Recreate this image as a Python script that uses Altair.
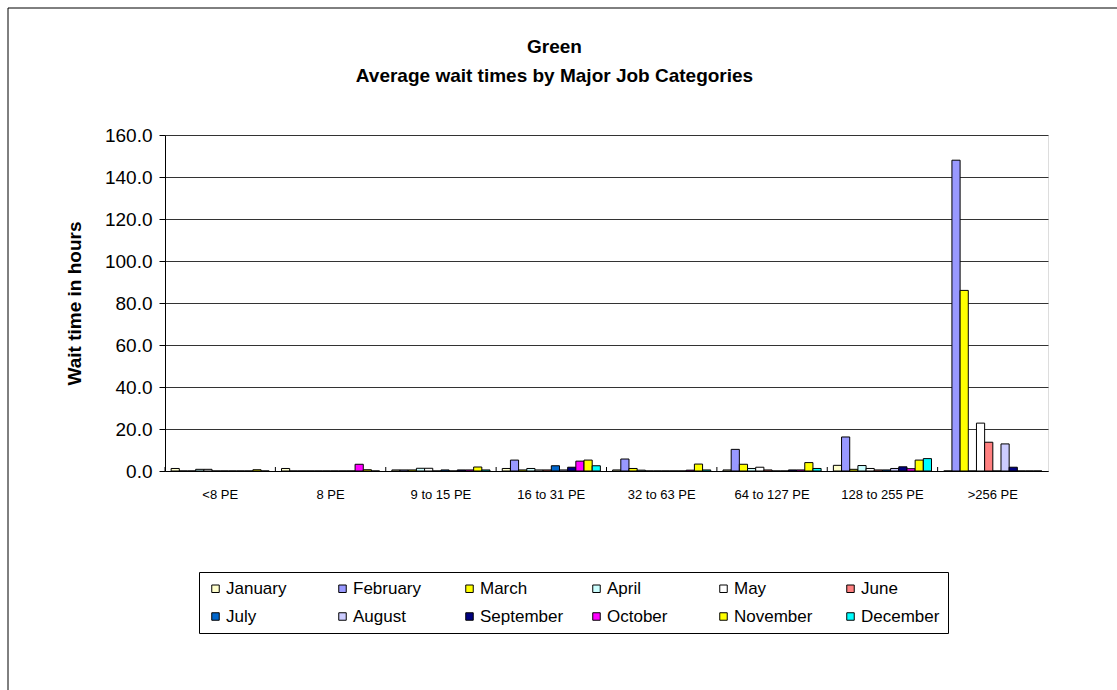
import altair as alt
import pandas as pd

categories = ["<8 PE", "8 PE", "9 to 15 PE", "16 to 31 PE", "32 to 63 PE",
              "64 to 127 PE", "128 to 255 PE", ">256 PE"]
months = ["January", "February", "March", "April", "May", "June",
          "July", "August", "September", "October", "November", "December"]

january   = [1.2, 1.2, 0.5, 1.2, 0.5, 0.5, 2.7, 0.0]
february  = [0.0, 0.0, 0.5, 5.2, 5.7, 10.3, 16.2, 148.0]
march     = [0.0, 0.0, 0.5, 0.5, 1.2, 3.2, 0.8, 86.0]
april     = [0.8, 0.0, 1.3, 1.2, 0.4, 1.2, 2.6, 0.0]
may       = [0.8, 0.0, 1.3, 0.5, 0.0, 1.8, 1.2, 22.8]
june      = [0.0, 0.0, 0.0, 0.5, 0.0, 0.5, 0.5, 13.7]
july      = [0.0, 0.0, 0.5, 2.5, 0.0, 0.0, 0.5, 0.0]
august    = [0.0, 0.0, 0.0, 0.5, 0.0, 0.0, 1.2, 12.9]
september = [0.0, 0.0, 0.5, 1.8, 0.0, 0.5, 2.0, 1.8]
october   = [0.0, 3.2, 0.5, 4.7, 0.4, 0.5, 1.1, 0.0]
november  = [0.6, 0.6, 1.9, 5.2, 3.3, 4.0, 5.2, 0.0]
december  = [0.0, 0.0, 0.5, 2.5, 0.5, 1.2, 5.9, 0.0]

series = [january, february, march, april, may, june, july, august,
          september, october, november, december]
colors = ["#FFFFCC", "#9999FF", "#FFFF00", "#CCFFFF", "#FFFFFF", "#FF8080",
          "#0066CC", "#CCCCFF", "#000080", "#FF00FF", "#FFFF00", "#00FFFF"]

rows = []
for m, vals in zip(months, series):
    for c, v in zip(categories, vals):
        rows.append({"category": c, "month": m, "value": v})
df = pd.DataFrame(rows)
cat_df = pd.DataFrame({"category": categories})

FONT = "Liberation Sans"
W, H = 883, 336

bars = alt.Chart(df).mark_bar(stroke="black", strokeWidth=1).encode(
    x=alt.X("category:N", sort=categories,
            scale=alt.Scale(paddingInner=0, paddingOuter=0),
            axis=alt.Axis(title=None, labelAngle=0, labelFontSize=13, labelFont=FONT,
                          labelColor="black", tickSize=0, labelPadding=17,
                          domainColor="black", domainWidth=1)),
    xOffset=alt.XOffset("month:N", sort=months,
                        scale=alt.Scale(paddingInner=0, paddingOuter=0.75)),
    y=alt.Y("value:Q", scale=alt.Scale(domain=[0, 160], nice=False),
            axis=alt.Axis(title="Wait time in hours", values=list(range(0, 161, 20)),
                          format=".1f", labelFontSize=19, labelFont=FONT,
                          labelColor="black", tickSize=6, tickColor="black",
                          labelPadding=7, domainColor="black",
                          titleFont=FONT, titleFontSize=19, titleFontWeight="bold",
                          titleColor="black", titlePadding=20,
                          grid=True, gridColor="#333333", gridWidth=1)),
    color=alt.Color("month:N", sort=months,
                    scale=alt.Scale(domain=months, range=colors),
                    legend=alt.Legend(title=None, orient="none", legendX=34, legendY=437,
                                      direction="horizontal",
                                      columns=6, gridAlign="all", columnPadding=24,
                                      rowPadding=10, padding=8, strokeColor="black",
                                      fillColor="white", symbolType="square",
                                      symbolSize=56, symbolStrokeColor="black",
                                      symbolStrokeWidth=1, labelFontSize=17,
                                      labelFont=FONT, labelColor="black",
                                      labelOffset=2, symbolOffset=0)),
)

ticks = alt.Chart(cat_df).mark_rule(color="black", strokeWidth=1).encode(
    x=alt.X("category:N", sort=categories, bandPosition=0),
    y=alt.value(H - 4),
    y2=alt.value(H),
)

frame_df = pd.DataFrame({"k": [0]})
frame_left = alt.Chart(frame_df).mark_rule(color="black", strokeWidth=1).encode(
    x=alt.value(-157), y=alt.value(-127), y2=alt.value(560))
frame_top = alt.Chart(frame_df).mark_rule(color="black", strokeWidth=1).encode(
    x=alt.value(-157), x2=alt.value(960), y=alt.value(-127))

chart = alt.layer(bars, ticks, frame_left, frame_top).properties(
    width=W, height=H,
    autosize=alt.AutoSizeParams(type="none"),
    padding={"left": 165, "top": 135, "right": 69, "bottom": 219},
    title=alt.TitleParams(text=["Green", "Average wait times by Major Job Categories"],
                          font=FONT, fontSize=19, fontWeight="bold", color="black",
                          anchor="middle", frame="group", dx=-52, offset=-78,
                          lineHeight=29),
).configure_view(stroke="#808080", strokeWidth=1).configure(background="white")

chart.save("out.html", embed_options={"renderer": "svg", "actions": False})
